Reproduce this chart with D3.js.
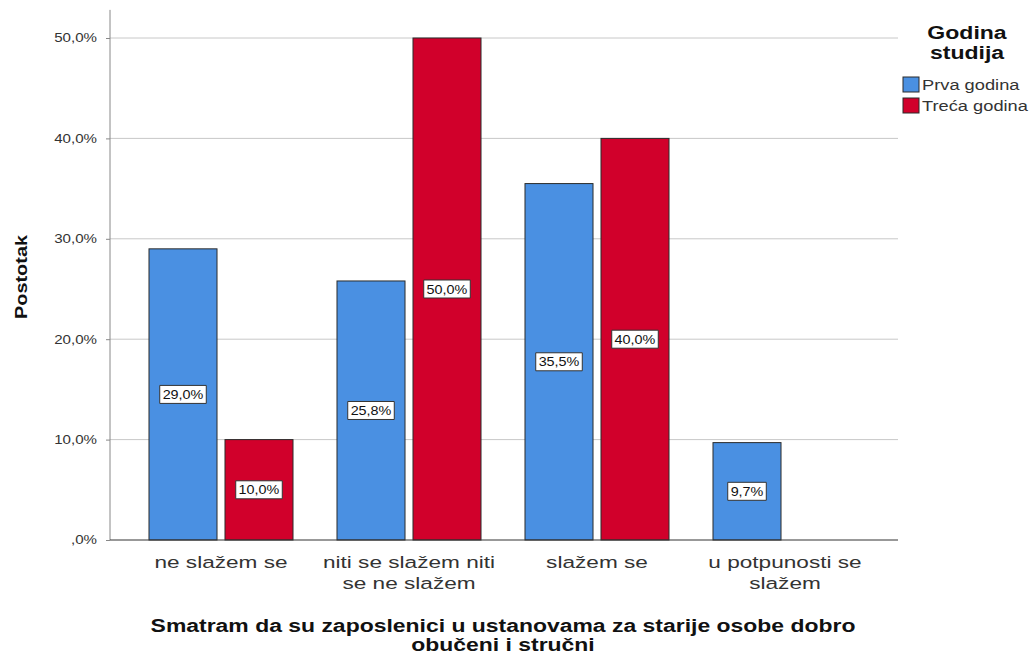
<!DOCTYPE html>
<html><head><meta charset="utf-8">
<script src="https://cdn.jsdelivr.net/npm/d3@7"></script>
<style>body{margin:0;background:#fff}svg{font-family:"Liberation Sans",Arial,sans-serif}</style>
</head><body><svg id="c" width="1033" height="655"></svg>
<script>
const categories = [["ne slažem se"], ["niti se slažem niti", "se ne slažem"], ["slažem se"], ["u potpunosti se", "slažem"]];
const seriesNames = ["Prva godina", "Treća godina"];
const prvaGodina = [29.0, 25.8, 35.5, 9.7];
const trecaGodina = [10.0, 50.0, 40.0, 0.0];
const yTicks = [0, 10, 20, 30, 40, 50];
const colors = ["#4a90e2", "#d1002b"];

const svg = d3.select("#c");
const catIds = categories.map((c, i) => i);
const x0 = d3.scaleBand().domain(catIds).range([127, 879]).paddingInner(0.234).paddingOuter(0.117);
const x1 = d3.scaleBand().domain(seriesNames).range([0, x0.bandwidth()]).paddingInner(0.105);
const y = d3.scaleLinear().domain([0, 50]).range([540, 38]);
const plotLeft = 110, plotRight = 898, plotTop = y(52.8);
const fmt = v => (v === 0 ? "" : String(Math.floor(v))) + "," + Math.round((v % 1) * 10) + "%";

// helper: text stretched along its own direction
function addText(parent, x, y0, str, o) {
  const g = parent.append("g").attr("transform", `translate(${x},${y0}) rotate(${o.rot || 0}) scale(${o.sx},1)`);
  const t = g.append("text").attr("text-anchor", o.anchor || "middle").attr("font-size", o.size)
    .attr("font-weight", o.bold ? "bold" : "normal").attr("fill", o.fill || "#333").text(str);
  return {g, t};
}

// grid
svg.append("g").selectAll("line").data(yTicks.filter(d => d > 0)).join("line")
  .attr("x1", plotLeft).attr("x2", plotRight).attr("y1", d => y(d)).attr("y2", d => y(d))
  .attr("stroke", "#c8c8c8").attr("stroke-width", 1);

// y axis
const yAxis = svg.append("g").attr("transform", `translate(${plotLeft},0)`)
  .call(d3.axisLeft(y).tickValues(yTicks).tickSize(4).tickFormat(fmt));
yAxis.select(".domain").remove();
yAxis.selectAll("line").attr("stroke", "#888");
yAxis.selectAll("text").attr("font-size", 12).attr("fill", "#333").attr("x", -13 / 1.26)
  .attr("transform", "scale(1.26,1)").attr("font-family", "Liberation Sans, Arial, sans-serif");
svg.append("line").attr("x1", plotLeft).attr("x2", plotLeft).attr("y1", plotTop).attr("y2", y(0)).attr("stroke", "#888");

// bars
const data = catIds.map(i => [
  {s: seriesNames[0], v: prvaGodina[i], c: colors[0]},
  {s: seriesNames[1], v: trecaGodina[i], c: colors[1]}]);
const groups = svg.append("g").selectAll("g").data(data).join("g")
  .attr("transform", (d, i) => `translate(${x0(i)},0)`);
groups.selectAll("rect").data(d => d).join("rect")
  .attr("x", d => x1(d.s)).attr("width", x1.bandwidth())
  .attr("y", d => y(d.v)).attr("height", d => y(0) - y(d.v))
  .attr("fill", d => d.c).attr("stroke", "#2b2b2b").attr("stroke-width", 1);

// x axis line
svg.append("line").attr("x1", plotLeft).attr("x2", plotRight).attr("y1", y(0)).attr("y2", y(0)).attr("stroke", "#333");

// value labels
groups.each(function(d) {
  const g = d3.select(this);
  d.filter(e => e.v > 0).forEach(e => {
    const cx = x1(e.s) + x1.bandwidth() / 2, cy = (y(e.v) + y(0)) / 2;
    const {g: lg, t} = addText(g, cx, cy, fmt(e.v), {sx: 1.15, size: 12.5, fill: "#111"});
    t.attr("y", 4.5);
    const bb = t.node().getBBox();
    lg.insert("rect", "text").attr("x", bb.x - 2.5).attr("y", -9).attr("width", bb.width + 5).attr("height", 18)
      .attr("fill", "#fff").attr("stroke", "#333").attr("stroke-width", 1).attr("vector-effect", "non-scaling-stroke");
  });
});

// category labels
categories.forEach((lines, i) => {
  lines.forEach((ln, j) => addText(svg, x0(i) + x0.bandwidth() / 2, 568 + j * 21, ln, {sx: 1.33, size: 17}));
});

// axis titles
addText(svg, 503, 632, "Smatram da su zaposlenici u ustanovama za starije osobe dobro", {sx: 1.275, size: 18, bold: true, fill: "#111"});
addText(svg, 503, 651, "obučeni i stručni", {sx: 1.275, size: 18, bold: true, fill: "#111"});
addText(svg, 27, 277, "Postotak", {sx: 1.17, size: 17, bold: true, fill: "#111", rot: -90});

// legend
addText(svg, 967, 39, "Godina", {sx: 1.28, size: 18, bold: true, fill: "#111"});
addText(svg, 967, 59, "studija", {sx: 1.28, size: 18, bold: true, fill: "#111"});
const lg = svg.append("g").selectAll("g").data(seriesNames).join("g")
  .attr("transform", (d, i) => `translate(903,${77 + i * 21})`);
lg.append("rect").attr("width", 16).attr("height", 15).attr("fill", (d, i) => colors[i]).attr("stroke", "#2b2b2b");
lg.each(function(d) { addText(d3.select(this), 19, 13, d, {sx: 1.26, size: 14.5, anchor: "start"}); });
</script></body></html>
